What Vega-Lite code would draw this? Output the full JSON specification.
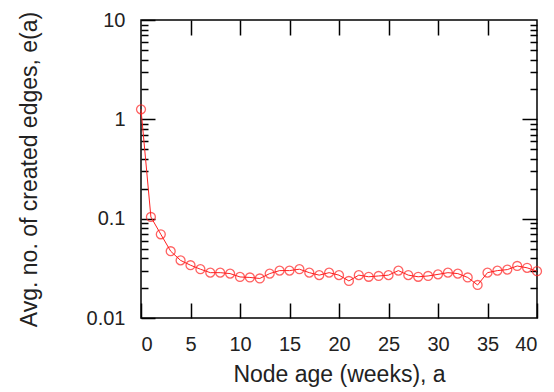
{
  "$schema": "https://vega.github.io/schema/vega-lite/v6.json",
  "autosize": "none",
  "width": 396,
  "height": 298,
  "padding": {"left": 141, "top": 20, "right": 17, "bottom": 74},
  "background": "white",
  "view": {"stroke": "black", "strokeWidth": 1.5},
  "config": {
    "axis": {
      "grid": false,
      "domain": false,
      "tickColor": "black",
      "tickWidth": 1.5,
      "labelFont": "Liberation Sans",
      "labelFontSize": 20,
      "labelColor": "#222",
      "titleFont": "Liberation Sans",
      "titleFontSize": 23,
      "titleFontWeight": "normal",
      "titleColor": "#222"
    }
  },
  "data": {
    "values": [
      {"a": 0, "e": 1.26}, {"a": 1, "e": 0.104}, {"a": 2, "e": 0.0696}, {"a": 3, "e": 0.047},
      {"a": 4, "e": 0.038}, {"a": 5, "e": 0.034}, {"a": 6, "e": 0.031}, {"a": 7, "e": 0.0286},
      {"a": 8, "e": 0.0286}, {"a": 9, "e": 0.028}, {"a": 10, "e": 0.0259}, {"a": 11, "e": 0.0256},
      {"a": 12, "e": 0.025}, {"a": 13, "e": 0.028}, {"a": 14, "e": 0.030}, {"a": 15, "e": 0.030},
      {"a": 16, "e": 0.031}, {"a": 17, "e": 0.0286}, {"a": 18, "e": 0.027}, {"a": 19, "e": 0.0286},
      {"a": 20, "e": 0.027}, {"a": 21, "e": 0.0236}, {"a": 22, "e": 0.027}, {"a": 23, "e": 0.026},
      {"a": 24, "e": 0.0265}, {"a": 25, "e": 0.027}, {"a": 26, "e": 0.030}, {"a": 27, "e": 0.027},
      {"a": 28, "e": 0.026}, {"a": 29, "e": 0.0265}, {"a": 30, "e": 0.0275}, {"a": 31, "e": 0.0286},
      {"a": 32, "e": 0.028}, {"a": 33, "e": 0.0256}, {"a": 34, "e": 0.0215}, {"a": 35, "e": 0.0286},
      {"a": 36, "e": 0.030}, {"a": 37, "e": 0.0307}, {"a": 38, "e": 0.0334}, {"a": 39, "e": 0.032},
      {"a": 40, "e": 0.0296}
    ]
  },
  "resolve": {"axis": {"x": "independent", "y": "independent"}},
  "layer": [
    {
      "mark": {"type": "line", "color": "#ff2020", "strokeWidth": 1, "clip": false},
      "encoding": {
        "x": {"field": "a", "type": "quantitative", "scale": {"domain": [0, 40], "nice": false, "zero": false}, "axis": {"orient": "bottom", "values": [0, 5, 10, 15, 20, 25, 30, 35, 40], "tickSize": -15, "labelPadding": 31, "labelOverlap": false, "title": "Node age (weeks), a", "titlePadding": 9}},
        "y": {"field": "e", "type": "quantitative", "scale": {"type": "log", "domain": [0.01, 10], "nice": false}, "axis": {"orient": "left", "values": [0.01, 0.1, 1, 10], "labelExpr": "format(datum.value, '~g')", "labelOverlap": false, "tickSize": -14, "labelPadding": 30, "title": "Avg. no. of created edges, e(a)", "titlePadding": 45}}
      }
    },
    {
      "mark": {"type": "point", "shape": "circle", "filled": false, "color": "#ff2020", "strokeWidth": 1.3, "size": 80, "clip": false},
      "encoding": {
        "x": {"field": "a", "type": "quantitative", "axis": {"orient": "top", "values": [5, 10, 15, 20, 25, 30, 35], "tickSize": -15, "labels": false, "title": null}},
        "y": {"field": "e", "type": "quantitative", "axis": {"orient": "right", "values": [0.1, 1], "tickSize": -15, "labels": false, "title": null}}
      }
    },
    {
      "mark": {"type": "line", "strokeOpacity": 0},
      "encoding": {
        "x": {"field": "a", "type": "quantitative", "axis": null},
        "y": {"field": "e", "type": "quantitative", "axis": {"orient": "left", "values": [0.02, 0.03, 0.04, 0.05, 0.06, 0.07, 0.08, 0.09, 0.2, 0.3, 0.4, 0.5, 0.6, 0.7, 0.8, 0.9, 2, 3, 4, 5, 6, 7, 8, 9], "tickSize": -7, "labels": false, "title": null}}
      }
    },
    {
      "mark": {"type": "line", "strokeOpacity": 0},
      "encoding": {
        "x": {"field": "a", "type": "quantitative", "axis": null},
        "y": {"field": "e", "type": "quantitative", "axis": {"orient": "right", "values": [0.02, 0.03, 0.04, 0.05, 0.06, 0.07, 0.08, 0.09, 0.2, 0.3, 0.4, 0.5, 0.6, 0.7, 0.8, 0.9, 2, 3, 4, 5, 6, 7, 8, 9], "tickSize": -7, "labels": false, "title": null}}
      }
    }
  ]
}
